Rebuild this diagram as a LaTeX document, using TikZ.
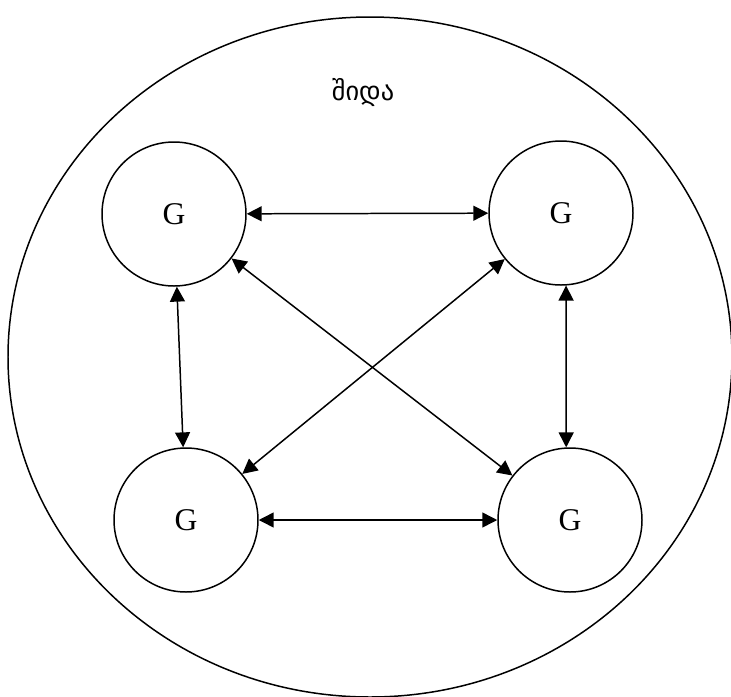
\documentclass[tikz,border=0pt]{standalone}
\usepackage{fontspec}
\setmainfont{Liberation Serif}
\newfontfamily\geofont[Script=Georgian]{DejaVu Sans}
\usetikzlibrary{arrows.meta}
\tikzset{
  gcirc/.style={circle, draw, line width=0.85pt, minimum size=144*0.02cm, inner sep=0pt, font=\fontsize{18}{20}\selectfont},
  link/.style={line width=0.85pt, {Triangle[length=8.5pt,width=8.5pt]}-{Triangle[length=8.5pt,width=8.5pt]}}
}

\begin{document}
\begin{tikzpicture}[x=0.02cm, y=-0.02cm]
			%%%%% START %%%%%
			\useasboundingbox (0, 0) rectangle (731, 697);
			
			\draw[line width=0.85pt] (370, 357) ellipse (362 and 340);
			\node[font=\geofont\fontsize{15}{18}\selectfont] (title) at (363, 92) {შიდა};
			
			\node[gcirc] (tl) at (174, 214) {G};
			\node[gcirc] (tr) at (561, 213) {G};
			\node[gcirc] (bl) at (186, 520) {G};
			\node[gcirc] (br) at (570, 520) {G};
			
			\draw[link] (tl) -- (tr);
			\draw[link] (bl) -- (br);
			\draw[link] (tl) -- (bl);
			\draw[link] (tr.-86) -- (br.93);
			\draw[link] (tl) -- (br);
			\draw[link] (tr) -- (bl);
			%%%%% END %%%%%
\end{tikzpicture}
\end{document}
